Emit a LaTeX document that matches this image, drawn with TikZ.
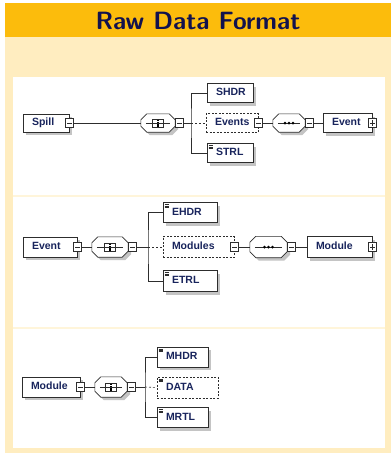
\documentclass[tikz,border=0pt]{standalone}
\usepackage{fontspec}
\newfontfamily\lab{Liberation Sans}
\usetikzlibrary{shadows,calc}
\definecolor{hdr}{RGB}{252,188,12}
\definecolor{body}{RGB}{255,237,192}
\definecolor{sepc}{RGB}{255,245,218}
\definecolor{ttl}{RGB}{18,18,78}
\definecolor{txt}{RGB}{24,36,92}
\definecolor{frm}{RGB}{45,45,45}
\definecolor{shdc}{RGB}{196,196,196}
\tikzset{
 shd/.style={drop shadow={shadow xshift=3pt, shadow yshift=-3pt, fill=shdc, opacity=1}},
 el/.style={draw=frm, fill=white, line width=0.6pt, font=\lab\bfseries\fontsize{10.5}{10.5}\selectfont, text=txt, align=left, inner xsep=9pt, inner ysep=0pt, text height=7.8pt, text depth=2pt},
 req/.style={el, shd},
 opt/.style={el, dash pattern=on 2pt off 1.5pt},
 comp/.style={rectangle, inner sep=0pt},
 mbox/.style={draw=frm, fill=white, solid, line width=0.5pt, minimum width=8pt, minimum height=9pt, inner sep=0pt,
   path picture={\draw[solid, line width=0.6pt, frm] ([xshift=1.8pt]path picture bounding box.west) -- ([xshift=-1.8pt]path picture bounding box.east);}},
 pbox/.style={draw=frm, fill=white, solid, line width=0.5pt, minimum width=8pt, minimum height=9pt, inner sep=0pt,
   path picture={\draw[solid, line width=0.6pt, frm] ([xshift=1.8pt]path picture bounding box.west) -- ([xshift=-1.8pt]path picture bounding box.east);
                 \draw[solid, line width=0.6pt, frm] ([yshift=-1.8pt]path picture bounding box.north) -- ([yshift=1.8pt]path picture bounding box.south);}},
 txticon/.style={path picture={\foreach \k in {2,3.3,4.6} \draw[solid, line width=0.5pt, frm] ([shift={(1.5pt,-\k pt)}]path picture bounding box.north west) -- ++(4pt,0);}},
 conn/.style={line width=0.6pt, draw=frm},
 optconn/.style={conn, dash pattern=on 2pt off 2pt},
}
\newcommand\octag[1]{%
  \path[draw=frm, fill=white, line width=0.6pt, shd]
   ([xshift=6pt]#1.north west) -- ([xshift=-6pt]#1.north east) -- ([yshift=-6pt]#1.north east)
   -- ([yshift=6pt]#1.south east) -- ([xshift=-6pt]#1.south east) -- ([xshift=6pt]#1.south west)
   -- ([yshift=6pt]#1.south west) -- ([yshift=-6pt]#1.north west) -- cycle;}
\newcommand\icdots[1]{%
  \draw[conn] ([xshift=5pt]#1.west) -- ([xshift=-5pt]#1.east);
  \foreach \d in {-4,0,4} \fill[black] ([xshift=\d pt]#1.center) circle (1.5pt);}
\newcommand\icbox[1]{%
  \draw[conn] ([xshift=5pt]#1.west) -- ([xshift=-5pt]#1.east);
  \draw[conn, fill=white] ([shift={(-5.5pt,-4pt)}]#1.center) rectangle ([shift={(5.5pt,4pt)}]#1.center);
  \draw[conn] ([xshift=-5.5pt]#1.center) -- ([xshift=5.5pt]#1.center);
  \draw[line width=1.8pt, black, dash pattern=on 1.6pt off 0.7pt] ([yshift=3.5pt]#1.center) -- ([yshift=-3.5pt]#1.center);}
\begin{document}
\begin{tikzpicture}[x=1pt, y=-1pt]
\useasboundingbox (0,0) rectangle (391,453);
% background
\fill[hdr] (5,3) rectangle (391,37);
\fill[body] (5,37) rectangle (391,453);
\fill[white] (13,77) rectangle (385,448);
\draw[sepc, line width=1.5pt] (13,196) -- (385,196);
\draw[sepc, line width=1.5pt] (13,328) -- (385,328);
\node[font=\sffamily\bfseries\fontsize{25}{25}\selectfont, text=ttl] (title) at (198,21) {Raw Data Format};

% ---------- Panel 1 ----------
\node[req, minimum height=18pt, text width=28pt] (spill) at (46,123) {Spill};
\node[mbox] (spillm) at (spill.east) {};
\node[comp, minimum width=34pt, minimum height=18pt] (seq1) at (158,123) {};
\octag{seq1}\icbox{seq1}
\node[mbox, anchor=west] (seq1m) at (seq1.east) {};
\coordinate (bar1) at (191,123);
\node[req, minimum height=19pt, text width=28pt] (shdr) at (230,93) {SHDR};
\node[opt, minimum height=19pt, text width=34pt] (events) at (232,123) {Events};
\node[mbox] (eventsm) at (events.east) {};
\node[req, txticon, minimum height=19pt, text width=28pt] (strl) at (230,153) {STRL};
\node[comp, minimum width=32pt, minimum height=18pt] (seq2) at (289,123) {};
\octag{seq2}\icdots{seq2}
\node[mbox, anchor=west] (seq2m) at (seq2.east) {};
\node[req, minimum height=19pt, text width=31pt] (event1) at (347.5,123) {Event};
\node[pbox] (event1p) at (event1.east) {};
\draw[conn] (spillm.east) -- (seq1.west);
\draw[conn] (seq1m.east) -- (bar1);
\draw[conn] (shdr.west) -| (bar1) |- (strl.west);
\draw[optconn] (bar1) -- (events.west);
\draw[conn] (eventsm.east) -- (seq2.west);
\draw[conn] (seq2m.east) -- (event1.west);

% ---------- Panel 2 ----------
\node[req, minimum height=20pt, text width=36pt] (event2) at (50,247) {Event};
\node[mbox] (event2m) at (event2.east) {};
\node[comp, minimum width=36pt, minimum height=20pt] (seq3) at (110,247) {};
\octag{seq3}\icbox{seq3}
\node[mbox, anchor=west] (seq3m) at (seq3.east) {};
\coordinate (bar2) at (148,247);
\node[req, txticon, minimum height=20pt, text width=36pt] (ehdr) at (190,212.5) {EHDR};
\node[opt, minimum height=21pt, text width=53pt] (modules) at (198.5,247) {Modules};
\node[mbox] (modulesm) at (modules.east) {};
\node[req, txticon, minimum height=21pt, text width=36pt] (etrl) at (190,281) {ETRL};
\node[comp, minimum width=37pt, minimum height=21pt] (seq4) at (268.5,247) {};
\octag{seq4}\icdots{seq4}
\node[mbox, anchor=west] (seq4m) at (seq4.east) {};
\node[req, minimum height=21pt, text width=47pt] (module1) at (339.5,247) {Module};
\node[pbox] (module1p) at (module1.east) {};
\draw[conn] (event2m.east) -- (seq3.west);
\draw[conn] (seq3m.east) -- (bar2);
\draw[conn] (ehdr.west) -| (bar2) |- (etrl.west);
\draw[optconn] (bar2) -- (modules.west);
\draw[conn] (modulesm.east) -- (seq4.west);
\draw[conn] (seq4m.east) -- (module1.west);

% ---------- Panel 3 ----------
\node[req, minimum height=20pt, text width=40pt] (module2) at (51,387) {Module};
\node[mbox] (module2m) at (module2.east) {};
\node[comp, minimum width=32pt, minimum height=20pt] (seq5) at (111,387) {};
\octag{seq5}\icbox{seq5}
\node[mbox, anchor=west] (seq5m) at (seq5.east) {};
\coordinate (bar3) at (145,387);
\node[req, txticon, minimum height=20pt, text width=33pt] (mhdr) at (182.5,357) {MHDR};
\node[opt, txticon, minimum height=21pt, text width=43pt] (data) at (187.5,387.5) {DATA};
\node[req, txticon, minimum height=20pt, text width=33pt] (mrtl) at (182.5,417.5) {MRTL};
\draw[conn] (module2m.east) -- (seq5.west);
\draw[conn] (seq5m.east) -- (bar3);
\draw[conn] (mhdr.west) -| (bar3) |- (mrtl.west);
\draw[optconn] (bar3) -- (data.west);
\end{tikzpicture}
\end{document}
